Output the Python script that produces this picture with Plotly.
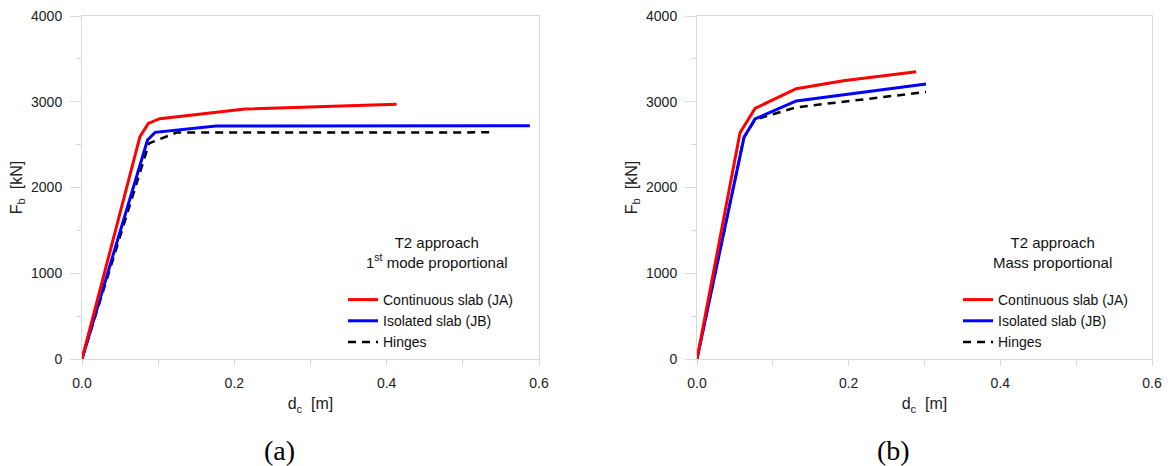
import plotly.graph_objects as go

# Panel (a): T2 approach, 1st mode proportional
a_ja_d = [0.0, 0.076, 0.087, 0.102, 0.214, 0.413]
a_ja_f = [0, 2592, 2748, 2803, 2915, 2970]
a_jb_d = [0.0, 0.086, 0.096, 0.176, 0.588]
a_jb_f = [0, 2554, 2643, 2717, 2721]
a_h_d = [0.0, 0.088, 0.124, 0.540]
a_h_f = [0, 2515, 2640, 2643]

# Panel (b): T2 approach, Mass proportional
b_ja_d = [0.0, 0.0567, 0.0765, 0.131, 0.193, 0.289]
b_ja_f = [0, 2639, 2923, 3152, 3245, 3351]
b_jb_d = [0.0, 0.062, 0.0765, 0.131, 0.302]
b_jb_f = [0, 2585, 2799, 3009, 3207]
b_h_d = [0.0, 0.062, 0.0765, 0.092, 0.131, 0.302]
b_h_f = [0, 2585, 2790, 2834, 2935, 3114]

series_names = ["Continuous slab (JA)", "Isolated slab (JB)", "Hinges"]
panel_notes = ["T2 approach<br>1<sup>st</sup> mode proportional", "T2 approach<br>Mass proportional"]
panel_labels = ["(a)", "(b)"]

W, H = 1170, 466
fig = go.Figure()

RED = "#ff0000"
BLUE = "#0000ff"
BLACK = "#000000"

panels = [
    (a_ja_d, a_ja_f, a_jb_d, a_jb_f, a_h_d, a_h_f),
    (b_ja_d, b_ja_f, b_jb_d, b_jb_f, b_h_d, b_h_f),
]
for i, (jad, jaf, jbd, jbf, hd, hf) in enumerate(panels):
    xa = "x" if i == 0 else "x2"
    ya = "y" if i == 0 else "y2"
    lg = "legend" if i == 0 else "legend2"
    fig.add_trace(go.Scatter(x=hd, y=hf, mode="lines", name=series_names[2],
                             line=dict(color=BLACK, width=2.5, dash="8px,6px"),
                             xaxis=xa, yaxis=ya, legend=lg, legendrank=3))
    fig.add_trace(go.Scatter(x=jbd, y=jbf, mode="lines", name=series_names[1],
                             line=dict(color=BLUE, width=3),
                             xaxis=xa, yaxis=ya, legend=lg, legendrank=2))
    fig.add_trace(go.Scatter(x=jad, y=jaf, mode="lines", name=series_names[0],
                             line=dict(color=RED, width=3),
                             xaxis=xa, yaxis=ya, legend=lg, legendrank=1))

GRID = "#d9d9d9"
SANS = "Liberation Sans, Arial, sans-serif"
TICKFONT = dict(family=SANS, size=14, color="#222")
TITLEFONT = dict(family=SANS, size=16, color="#222")

y_dom = [1 - 359 / H, 1 - 16 / H]
x_doms = [[82 / W, 539 / W], [697 / W, 1152 / W]]

def xaxis_cfg(dom, anchor):
    return dict(domain=dom, anchor=anchor, range=[0, 0.6], dtick=0.2, tick0=0,
                tickformat=".1f", showgrid=False, zeroline=False, automargin=False,
                showline=True, linecolor=GRID, linewidth=1, mirror=True,
                ticks="outside", ticklen=6, tickcolor=GRID, tickwidth=1,
                minor=dict(dtick=0.1, ticks="outside", ticklen=6, tickcolor=GRID, showgrid=False),
                tickfont=TICKFONT, ticklabelstandoff=5,
                title=dict(text="d<sub>c</sub>  [m]", font=TITLEFONT, standoff=8))

def yaxis_cfg(anchor):
    return dict(domain=y_dom, anchor=anchor, range=[0, 4000], dtick=1000, tick0=0,
                showgrid=False, zeroline=False, automargin=False,
                showline=True, linecolor=GRID, linewidth=1, mirror=True,
                ticks="outside", ticklen=11, tickcolor=GRID, tickwidth=1,
                minor=dict(dtick=500, ticks="outside", ticklen=5, tickcolor=GRID, showgrid=False),
                tickfont=TICKFONT, ticklabelstandoff=5,
                title=dict(text="F<sub>b</sub>  [kN]", font=TITLEFONT, standoff=4))

LEGFONT = dict(family=SANS, size=14, color="#111")
fig.update_layout(
    width=W, height=H,
    margin=dict(l=0, r=0, t=0, b=0),
    paper_bgcolor="white", plot_bgcolor="white",
    xaxis=xaxis_cfg(x_doms[0], "y"),
    yaxis=yaxis_cfg("x"),
    xaxis2=xaxis_cfg(x_doms[1], "y2"),
    yaxis2=yaxis_cfg("x2"),
    legend=dict(x=343 / W, y=1 - 284 / H, xanchor="left", yanchor="top",
                bgcolor="rgba(0,0,0,0)", itemwidth=30, tracegroupgap=0, font=LEGFONT),
    legend2=dict(x=958 / W, y=1 - 284 / H, xanchor="left", yanchor="top",
                 bgcolor="rgba(0,0,0,0)", itemwidth=30, tracegroupgap=0, font=LEGFONT),
    showlegend=True,
)

note_x = [437 / W, 1052 / W]
label_x = [279 / W, 894 / W]
for i in range(2):
    fig.add_annotation(text=panel_notes[i], x=note_x[i], y=1 - 252 / H, xref="paper", yref="paper",
                       xanchor="center", yanchor="middle", showarrow=False, align="center",
                       font=dict(family=SANS, size=15, color="#111"))
    fig.add_annotation(text=panel_labels[i], x=label_x[i], y=1 - 450 / H, xref="paper", yref="paper",
                       xanchor="center", yanchor="middle", showarrow=False,
                       font=dict(family="Liberation Serif, Times New Roman, serif", size=28, color="#000"))

fig.write_html("out.html", config={"displayModeBar": False},
               post_script="document.body.style.margin='0';")
